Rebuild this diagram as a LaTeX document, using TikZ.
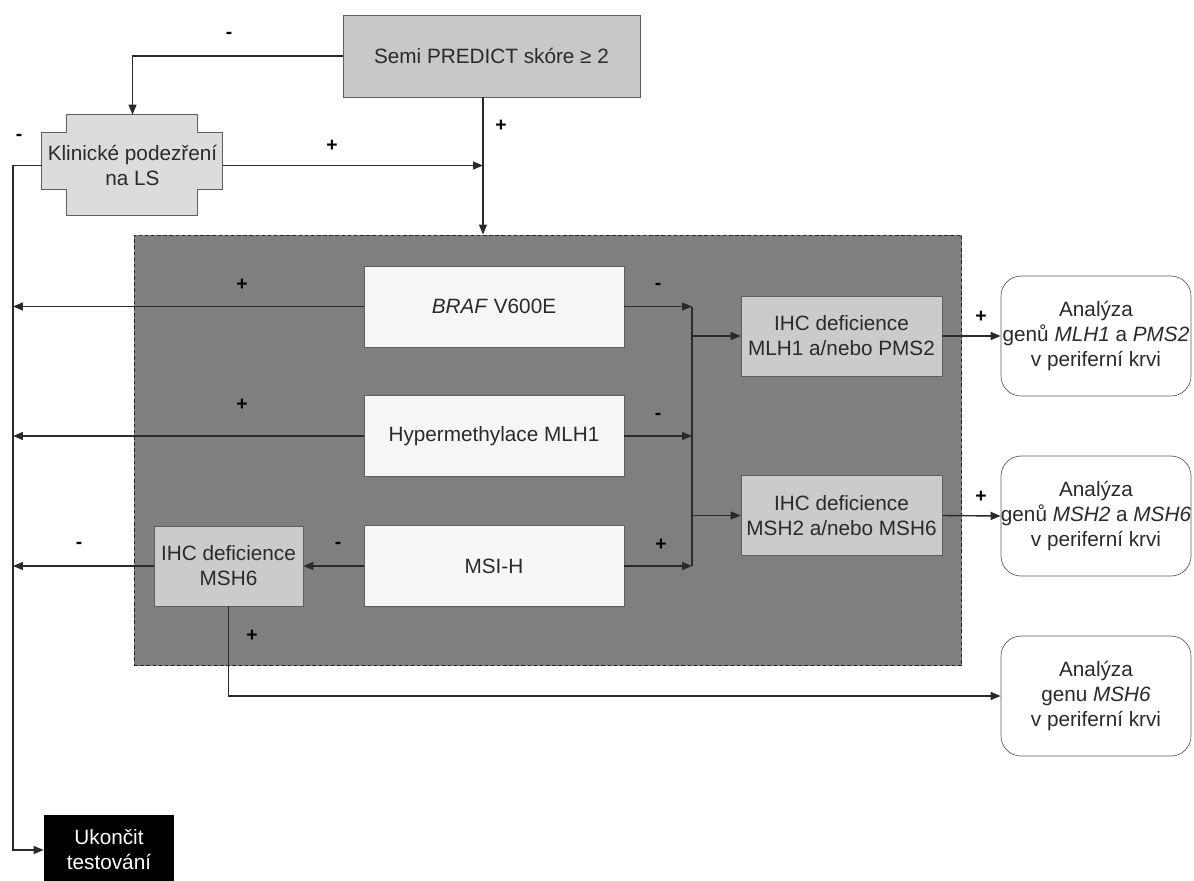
\documentclass[tikz,border=0pt]{standalone}
\usepackage{fontspec}
\setmainfont{Liberation Sans}
\usepackage{xcolor}
\usetikzlibrary{arrows.meta}
\usetikzlibrary{calc}
\usetikzlibrary{backgrounds}
\definecolor{panelgray}{HTML}{7F7F7F}
\definecolor{semigray}{HTML}{C8C8C8}
\definecolor{ihcgray}{HTML}{CBCBCB}
\definecolor{klingray}{HTML}{DCDCDC}
\definecolor{inkgray}{HTML}{2A2A2A}
\definecolor{edgegray}{HTML}{5E5E5E}
\definecolor{testwhite}{HTML}{F6F6F6}

\begin{document}
\begin{tikzpicture}[x=0.02cm,y=-0.02cm,
  every node/.style={font=\fontsize{11.8}{14.2}\selectfont,text=inkgray,align=center},
  testbox/.style={draw=edgegray,fill=testwhite,minimum width=5.2cm,minimum height=1.62cm,inner sep=0pt},
  ihcbox/.style={draw=edgegray,fill=ihcgray,minimum width=4.02cm,minimum height=1.6cm,inner sep=0pt},
  genbox/.style={draw=edgegray,fill=white,rounded corners=0.4cm,minimum width=3.8cm,minimum height=2.4cm,inner xsep=-0.3cm,inner ysep=0pt},
  sign/.style={font=\fontsize{11}{13}\selectfont\bfseries,text=black,inner sep=0pt},
  conn/.style={draw=inkgray,line width=0.8pt},
  arr/.style={conn,-{Triangle[length=0.2cm,width=0.16cm]}}]
\useasboundingbox (0,0) rectangle (1194,880);
% gray panel with the three tests
\node[draw=black!85,dash pattern=on 2pt off 1.5pt,line width=0.6pt,fill=panelgray,
  minimum width=16.56cm,minimum height=8.62cm,inner sep=0pt] (panel) at (548,450.5) {};
\node[draw=edgegray,fill=semigray,minimum width=5.94cm,minimum height=1.64cm] (semi) at (491.5,56) {Semi PREDICT skóre ≥ 2};
\node[minimum width=3.62cm,minimum height=2.02cm,inner sep=0pt] (klin) at (132.5,165.5) {Klinické podezření\\na LS};
\begin{scope}[on background layer]
\draw[draw=edgegray,fill=klingray,line width=0.6pt]
  ($(klin.north west)+(25,0)$) -- ++(131,0) -- ++(0,18) -- ++(25,0) -- ++(0,57)
  -- ++(-25,0) -- ++(0,26) -- ++(-131,0) -- ++(0,-26) -- ++(-25,0) -- ++(0,-57)
  -- ++(25,0) -- cycle;
\end{scope}
\node[testbox] (braf) at (494,306.5) {\textit{BRAF} V600E};
\node[testbox] (hyper) at (494,436) {Hypermethylace MLH1};
\node[testbox] (msi) at (494,566) {MSI-H};
\node[ihcbox] (ihcmlh) at (841.5,336) {IHC deficience\\MLH1 a/nebo PMS2};
\node[ihcbox] (ihcmsh) at (841.5,515.5) {IHC deficience\\MSH2 a/nebo MSH6};
\node[ihcbox,minimum width=2.98cm] (ihcsix) at (228.5,566) {IHC deficience\\MSH6};
\node[genbox] (genmlh) at (1096,336) {Analýza\\genů \textit{MLH1} a \textit{PMS2}\\v periferní krvi};
\node[genbox] (genmsh) at (1096,516) {Analýza\\genů \textit{MSH2} a \textit{MSH6}\\v periferní krvi};
\node[genbox] (gensix) at (1096,696) {Analýza\\genu \textit{MSH6}\\v periferní krvi};
\node[fill=black,text=white,minimum width=2.6cm,minimum height=1.4cm,inner sep=0pt] (stop) at (109,850) {Ukončit\\testování};
\coordinate (join) at (483,165.5);
\coordinate (lbus) at (13,0);
\coordinate (rbus) at (692,0);
% connectors
\draw[arr] (semi.west) -| (klin.north);
\draw[arr] (semi.south -| join) -- (join |- panel.north);
\draw[arr] (klin.east) -- (join);
\draw[arr] (klin.west) -| (lbus |- stop.west) -- (stop.west);
\draw[arr] (braf.west) -- (braf.west -| lbus);
\draw[arr] (hyper.west) -- (hyper.west -| lbus);
\draw[arr] (msi.west) -- (ihcsix.east);
\draw[arr] (ihcsix.west) -- (ihcsix.west -| lbus);
\draw[arr] (braf.east) -- (braf.east -| rbus);
\draw[arr] (hyper.east) -- (hyper.east -| rbus);
\draw[arr] (msi.east) -- (msi.east -| rbus);
\draw[conn] (braf.east -| rbus) -- (msi.east -| rbus);
\draw[arr] (ihcmlh.west -| rbus) -- (ihcmlh.west);
\draw[arr] (ihcmsh.west -| rbus) -- (ihcmsh.west);
\draw[arr] (ihcmlh.east) -- (genmlh.west);
\draw[arr] (ihcmsh.east) -- (genmsh.west);
\draw[arr] (ihcsix.south) |- (gensix.west);
% signs
\node[sign] (s1) at (229,35) {-};
\node[sign] (s2) at (501,126) {+};
\node[sign] (s3) at (332,146) {+};
\node[sign] (s4) at (19,137) {-};
\node[sign] (s5) at (242,285) {+};
\node[sign] (s6) at (242,405) {+};
\node[sign] (s7) at (79,545) {-};
\node[sign] (s8) at (338,545) {-};
\node[sign] (s9) at (658,286) {-};
\node[sign] (s10) at (658,416) {-};
\node[sign] (s11) at (661,545) {+};
\node[sign] (s12) at (981,317) {+};
\node[sign] (s13) at (981,497) {+};
\node[sign] (s14) at (252,636) {+};
\end{tikzpicture}
\end{document}
